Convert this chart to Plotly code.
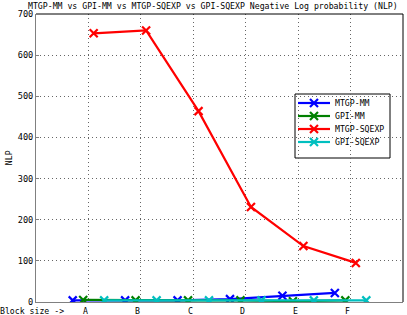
import plotly.graph_objects as go

categories = ["A", "B", "C", "D", "E", "F"]
axis_label = "Block size ->"
series_names = ["MTGP-MM", "GPI-MM", "MTGP-SQEXP", "GPI-SQEXP"]
mtgp_mm = [4, 4, 4, 7, 15, 22]
gpi_mm = [5, 4, 4, 4, 2, 4]
mtgp_sqexp = [653, 660, 464, 231, 136, 95]
gpi_sqexp = [4, 4, 4, 4, 4, 4]
y_ticks = [0, 100, 200, 300, 400, 500, 600, 700]

values = [mtgp_mm, gpi_mm, mtgp_sqexp, gpi_sqexp]
colors = ["#0000FF", "#008000", "#FF0000", "#00BFBF"]
offsets = [-0.3, -0.1, 0.1, 0.3]

FONT = "DejaVu Sans Mono"
FS = 8.2
W, H = 407, 315
L, R, T, B = 36, 4, 14, 13

fig = go.Figure()
for name, vals, col, off in zip(series_names, values, colors, offsets):
    xs = [i + 1 + off for i in range(len(categories))]
    fig.add_trace(go.Scatter(
        x=xs, y=vals, name=name, mode="lines+markers", showlegend=False,
        line=dict(color=col, width=2.2),
        marker=dict(symbol="x-thin", size=8, line=dict(color=col, width=2.2), color=col),
    ))

# hand-drawn legend on an overlay axis in pixel units
leg_left, leg_right, leg_top, leg_bot = 295, 390, 94, 158
row_y = [103, 116, 129, 142]
for name, col, yy in zip(series_names, colors, row_y):
    fig.add_trace(go.Scatter(
        x=[298, 314, 330], y=[yy, yy, yy], xaxis="x2", yaxis="y2",
        mode="lines", line=dict(color=col, width=2.2), showlegend=False, hoverinfo="skip"))
    fig.add_trace(go.Scatter(
        x=[314], y=[yy], xaxis="x2", yaxis="y2", mode="markers", showlegend=False,
        marker=dict(symbol="x-thin", size=8, line=dict(color=col, width=2.2), color=col),
        hoverinfo="skip"))
    fig.add_annotation(text=name, xref="x2", yref="y2", x=333, y=yy, xanchor="left",
                       yanchor="middle", showarrow=False,
                       font=dict(family=FONT, size=FS, color="black"))
fig.add_shape(type="rect", xref="x2", yref="y2", x0=leg_left, x1=leg_right,
              y0=leg_top, y1=leg_bot, line=dict(color="black", width=1),
              fillcolor="white", layer="below")

fig.update_layout(
    width=W, height=H,
    margin=dict(l=L, r=R, t=T, b=B),
    paper_bgcolor="white", plot_bgcolor="white",
    font=dict(family=FONT, size=FS, color="black"),
    title=dict(text="MTGP-MM vs GPI-MM vs MTGP-SQEXP vs GPI-SQEXP Negative Log probability (NLP)",
               xref="container", yref="container",
               x=28 / W, xanchor="left", y=1 - 6 / H, yanchor="middle",
               pad=dict(t=0, l=0, r=0, b=0),
               font=dict(family=FONT, size=FS, color="black")),
    showlegend=False,
    xaxis=dict(range=[0, 7], tickvals=list(range(1, 7)),
               showticklabels=False,
               showgrid=True, gridcolor="#666666", griddash="1px,3px", gridwidth=1,
               showline=True, linecolor="#808080", linewidth=1,
               ticks="", zeroline=False, automargin=False),
    yaxis=dict(range=[0, 700], tickvals=y_ticks,
               showgrid=True, gridcolor="#666666", griddash="1px,3px", gridwidth=1,
               showline=True, linecolor="#808080", linewidth=1,
               ticks="inside", ticklen=3, tickcolor="#808080", zeroline=False,
               automargin=False, tickfont=dict(family=FONT, size=8.6)),
    xaxis2=dict(range=[L, W - R], overlaying="x", visible=False, fixedrange=True),
    yaxis2=dict(range=[H - B, T], overlaying="y", visible=False, fixedrange=True),
)
# x tick labels
fig.add_annotation(text=axis_label, xref="x", yref="paper", x=0, y=0, xshift=-4, yshift=-9,
                   xanchor="center", yanchor="middle", showarrow=False,
                   font=dict(family=FONT, size=FS, color="black"))
for i, c in enumerate(categories):
    fig.add_annotation(text=c, xref="x", yref="paper", x=i + 1, y=0, xshift=-3, yshift=-9,
                       xanchor="center", yanchor="middle", showarrow=False,
                       font=dict(family=FONT, size=FS, color="black"))
fig.add_shape(type="line", xref="paper", yref="paper", x0=0, x1=1, y0=1, y1=1,
              line=dict(color="black", width=1))
fig.add_shape(type="line", xref="paper", yref="paper", x0=1, x1=1, y0=0, y1=1,
              line=dict(color="black", width=1))
fig.add_annotation(text="NLP", xref="paper", yref="paper", x=-0.073, y=0.5,
                   xanchor="center", yanchor="middle", textangle=-90, showarrow=False,
                   font=dict(family=FONT, size=FS, color="black"))
fig.write_html("out.html", config={"displayModeBar": False},
               post_script="document.body.style.margin='0';document.body.style.overflow='hidden';")
